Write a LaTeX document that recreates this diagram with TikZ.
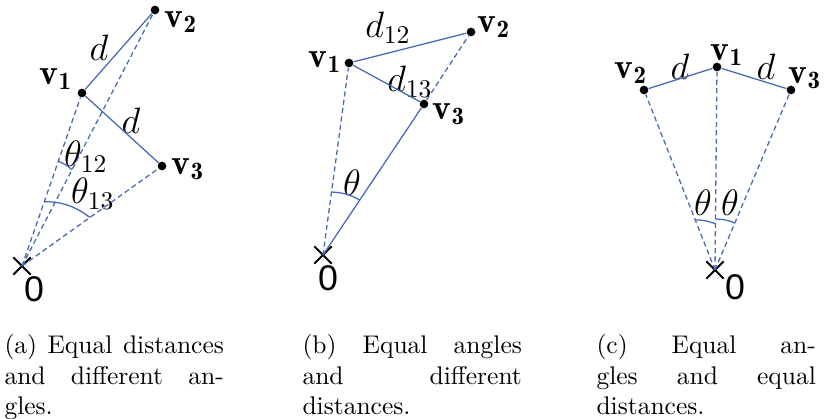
\documentclass[tikz,border=0pt]{standalone}
\usepackage{fontspec}
\newfontfamily\zerofont{Liberation Sans}
\usepackage{tikz}
\usetikzlibrary{shapes.misc, positioning, calc}
\definecolor{lineblue}{RGB}{72,106,180}

\begin{document}
\begin{tikzpicture}[
  x=0.392pt, y=0.392pt,
  vtx/.style={circle, fill=black, inner sep=0pt, minimum size=3.4pt},
  originmark/.style={cross out, draw=black, line width=0.8pt, minimum size=6pt, inner sep=0pt},
  lab/.style={font=\fontsize{14}{16}\selectfont, inner sep=0pt},
  zero/.style={font=\zerofont\fontsize{14}{16}\selectfont, inner sep=0pt},
  seg/.style={lineblue, line width=0.5pt},
  ray/.style={lineblue, line width=0.5pt, dash pattern=on 2pt off 1.3pt},
  ang/.style={lineblue, line width=0.5pt},
  captext/.style={anchor=north west, inner sep=0pt, text width=86pt, align=justify,
              font=\fontsize{10}{12}\selectfont},
]
  \useasboundingbox (0,0) rectangle (824,419);

  \node[originmark] (Oa) at (22,153) {};
  \node[vtx] (v1a) at (82,326) {};
  \node[vtx] (v2a) at (155,409) {};
  \node[vtx] (v3a) at (162,253) {};
  \node[lab] (l1a) at (56,340) {$\mathbf{v_1}$};
  \node[lab] (l2a) at (181,397) {$\mathbf{v_2}$};
  \node[lab] (l3a) at (188,250) {$\mathbf{v_3}$};
  \node[lab] (d12a) at (99,371) {$d$};
  \node[lab] (d13a) at (131,298) {$d$};
  \node[lab] (t12a) at (86,262) {$\theta_{12}$};
  \node[lab] (t13a) at (93,225) {$\theta_{13}$};
  \node[zero] (za) at (34,130) {0};
  \draw[seg] (v1a) -- (v2a);
  \draw[seg] (v1a) -- (v3a);
  \draw[ray] (Oa.center) -- (v1a);
  \draw[ray] (Oa.center) -- (v2a);
  \draw[ray] (Oa.center) -- (v3a);
  \draw[ang] ($(Oa.center)!0.605!(v1a)$) to[bend left=10] ($(Oa.center)!0.376!(v2a)$);
  \draw[ang] ($(Oa.center)!0.372!(v1a)$) to[bend left=18] ($(Oa.center)!0.485!(v3a)$);
  \node[captext] (capa) at (4,85) {(a) Equal distances\linebreak and different an-\linebreak gles.};

  \node[originmark] (Ob) at (323,164) {};
  \node[vtx] (v1b) at (349,356) {};
  \node[vtx] (v2b) at (471,387) {};
  \node[vtx] (v3b) at (424,315) {};
  \node[lab] (l1b) at (325,357) {$\mathbf{v_1}$};
  \node[lab] (l2b) at (494,392) {$\mathbf{v_2}$};
  \node[lab] (l3b) at (449,305) {$\mathbf{v_3}$};
  \node[lab] (d12b) at (388,391) {$d_{12}$};
  \node[lab] (d13b) at (410,337) {$d_{13}$};
  \node[lab] (tb) at (352,236) {$\theta$};
  \node[zero] (zb) at (328,141) {0};
  \draw[seg] (v1b) -- (v2b);
  \draw[seg] (v1b) -- (v3b);
  \draw[seg] (Ob.center) -- (v3b);
  \draw[ray] (Ob.center) -- (v1b);
  \draw[ray] (v3b) -- (v2b);
  \draw[ang] ($(Ob.center)!0.328!(v1b)$) to[bend left=13] ($(Ob.center)!0.364!(v3b)$);
  \node[captext] (capb) at (302,85) {(b) Equal angles\linebreak and different\linebreak distances.};

  \node[originmark] (Oc) at (715,149) {};
  \node[vtx] (v1c) at (717,352) {};
  \node[vtx] (v2c) at (644,329) {};
  \node[vtx] (v3c) at (791,329) {};
  \node[lab] (l1c) at (727,364) {$\mathbf{v_1}$};
  \node[lab] (l2c) at (631,346) {$\mathbf{v_2}$};
  \node[lab] (l3c) at (805,341) {$\mathbf{v_3}$};
  \node[lab] (d12c) at (680,352) {$d$};
  \node[lab] (d13c) at (766,352) {$d$};
  \node[lab] (t2c) at (703,216) {$\theta$};
  \node[lab] (t3c) at (730,216) {$\theta$};
  \node[zero] (zc) at (735,132) {0};
  \draw[seg] (v2c) -- (v1c);
  \draw[seg] (v1c) -- (v3c);
  \draw[ray] (Oc.center) -- (v1c);
  \draw[ray] (Oc.center) -- (v2c);
  \draw[ray] (Oc.center) -- (v3c);
  \draw[ang] ($(Oc.center)!0.278!(v2c)$) to[bend left=11] ($(Oc.center)!0.227!(v1c)$);
  \draw[ang] ($(Oc.center)!0.251!(v1c)$) to[bend left=11] ($(Oc.center)!0.261!(v3c)$);
  \node[captext] (capc) at (596,85) {(c) Equal an-\linebreak gles and equal\linebreak distances.};
\end{tikzpicture}
\end{document}
